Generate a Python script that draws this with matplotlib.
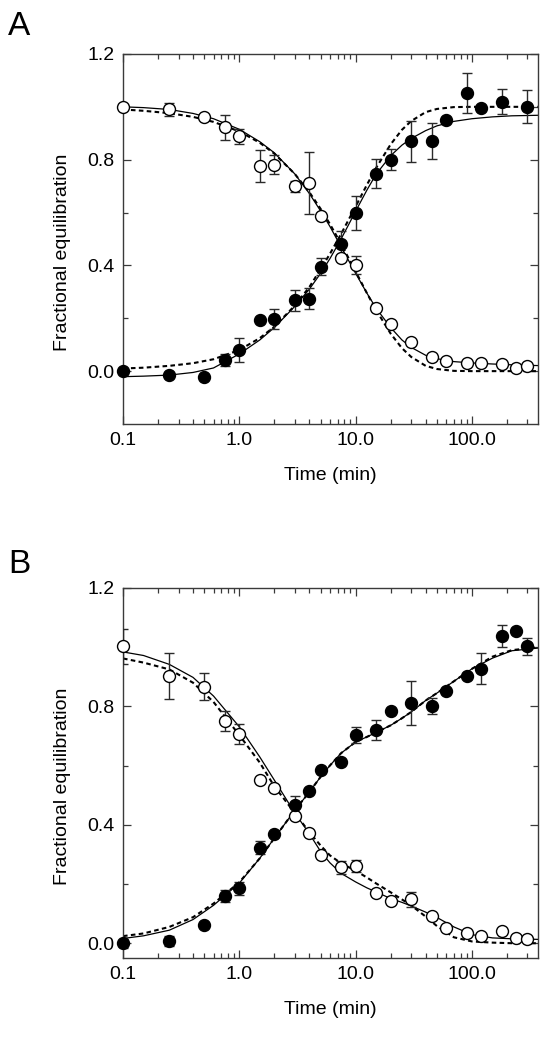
import matplotlib
matplotlib.use("Agg")
import matplotlib.pyplot as plt
from matplotlib.ticker import FixedLocator, LogLocator, NullFormatter, FixedFormatter

plt.rcParams['font.family'] = ['Liberation Sans', 'DejaVu Sans']

# --- data ---
# sampling times (min)
t_a_open = [0.1, 0.25, 0.5, 0.75, 1, 1.5, 2, 3, 4, 5, 7.5, 10, 15, 20, 30, 45, 60, 90, 120, 180, 240, 300]
t_a_fill = [0.1, 0.25, 0.5, 0.75, 1, 1.5, 2, 3, 4, 5, 7.5, 10, 15, 20, 30, 45, 60, 90, 120, 180, 300]
t_b = [0.1, 0.25, 0.5, 0.75, 1, 1.5, 2, 3, 4, 5, 7.5, 10, 15, 20, 30, 45, 60, 90, 120, 180, 240, 300]

# panel A
a_open = [1.0, 0.99, 0.963, 0.922, 0.888, 0.777, 0.781, 0.699, 0.712, 0.586, 0.429, 0.401,
          0.240, 0.177, 0.111, 0.054, 0.039, 0.029, 0.029, 0.026, 0.010, 0.020]
a_open_err = [0.0, 0.025, 0.0, 0.046, 0.029, 0.06, 0.036, 0.02, 0.116, 0.0, 0.0, 0.035,
              0.01, 0.0, 0.0, 0.0, 0.0, 0.0, 0.0, 0.0, 0.0, 0.0]
a_fill = [-0.001, -0.015, -0.024, 0.042, 0.079, 0.192, 0.196, 0.268, 0.274, 0.395, 0.482, 0.599,
          0.747, 0.80, 0.869, 0.869, 0.951, 1.052, 0.995, 1.02, 1.001]
a_fill_err = [0.0, 0.0, 0.0, 0.022, 0.045, 0.0, 0.038, 0.04, 0.04, 0.033, 0.047, 0.065,
              0.055, 0.039, 0.079, 0.068, 0.0, 0.077, 0.0, 0.047, 0.064]

# panel B
b_open = [1.003, 0.903, 0.866, 0.751, 0.708, 0.551, 0.523, 0.430, 0.373, 0.297, 0.256, 0.26,
          0.17, 0.142, 0.148, 0.091, 0.052, 0.036, 0.024, 0.042, 0.016, 0.014]
b_open_err = [0.059, 0.079, 0.046, 0.034, 0.034, 0.0, 0.0, 0.0, 0.0, 0.0, 0.022, 0.02,
              0.0, 0.0, 0.025, 0.0, 0.0, 0.0, 0.0, 0.0, 0.0, 0.0]
b_fill = [0.0, 0.007, 0.063, 0.159, 0.185, 0.323, 0.37, 0.466, 0.514, 0.584, 0.613, 0.703,
          0.72, 0.785, 0.812, 0.802, 0.851, 0.902, 0.928, 1.037, 1.055, 1.003]
b_fill_err = [0.015, 0.016, 0.0, 0.021, 0.021, 0.022, 0.0, 0.031, 0.0, 0.0, 0.0, 0.027,
              0.034, 0.0, 0.074, 0.028, 0.0, 0.0, 0.052, 0.038, 0.01, 0.028]

# fitted curves on a common time grid
t_fit = [0.1, 0.15, 0.25, 0.4, 0.6, 1, 1.5, 2, 3, 4, 5, 6, 7.5, 10, 12.5, 15, 20, 25, 30,
         40, 50, 70, 100, 150, 220, 370]
a_open_solid = [1.0, 0.997, 0.99, 0.975, 0.955, 0.915, 0.868, 0.826, 0.746, 0.672, 0.606, 0.548,
                0.47, 0.37, 0.295, 0.238, 0.165, 0.118, 0.09, 0.06, 0.047, 0.036, 0.031, 0.027,
                0.024, 0.021]
a_open_dash = [0.99, 0.985, 0.976, 0.962, 0.943, 0.907, 0.864, 0.823, 0.746, 0.677, 0.614, 0.557,
               0.481, 0.377, 0.295, 0.231, 0.142, 0.087, 0.054, 0.02, 0.008, 0.001, 0.0, 0.0,
               0.0, 0.0]
a_fill_solid = [-0.021, -0.019, -0.015, -0.005, 0.012, 0.065, 0.118, 0.165, 0.245, 0.31, 0.37,
                0.425, 0.5, 0.605, 0.685, 0.745, 0.815, 0.855, 0.88, 0.91, 0.928, 0.945, 0.955,
                0.962, 0.966, 0.968]
a_fill_dash = [0.01, 0.013, 0.02, 0.03, 0.045, 0.08, 0.125, 0.168, 0.248, 0.318, 0.386, 0.443,
               0.519, 0.623, 0.705, 0.769, 0.858, 0.913, 0.946, 0.98, 0.992, 0.999, 1.0, 1.0,
               1.0, 1.0]
b_open_solid = [0.984, 0.972, 0.942, 0.898, 0.835, 0.731, 0.629, 0.551, 0.44, 0.37, 0.31, 0.272,
                0.236, 0.207, 0.187, 0.173, 0.151, 0.138, 0.126, 0.105, 0.087, 0.055, 0.029,
                0.018, 0.015, 0.013]
b_open_dash = [0.962, 0.948, 0.925, 0.88, 0.815, 0.703, 0.61, 0.53, 0.44, 0.375, 0.33, 0.297,
               0.27, 0.245, 0.222, 0.202, 0.172, 0.148, 0.128, 0.09, 0.058, 0.02, 0.006, 0.002,
               0.0, 0.0]
b_fill_solid = [0.016, 0.025, 0.044, 0.08, 0.128, 0.203, 0.287, 0.355, 0.449, 0.511, 0.562, 0.6,
                0.642, 0.68, 0.697, 0.712, 0.736, 0.76, 0.781, 0.82, 0.845, 0.885, 0.927, 0.963,
                0.988, 0.997]
b_fill_dash = [0.024, 0.033, 0.055, 0.088, 0.134, 0.206, 0.287, 0.355, 0.449, 0.511, 0.562, 0.6,
               0.642, 0.68, 0.697, 0.712, 0.736, 0.76, 0.781, 0.82, 0.845, 0.885, 0.927, 0.968,
               0.99, 1.0]

x_ticks = [0.1, 1, 10, 100]
x_ticklabels = ["0.1", "1.0", "10.0", "100.0"]
y_ticks = [0.0, 0.4, 0.8, 1.2]
y_ticklabels = ["0.0", "0.4", "0.8", "1.2"]

# --- figure ---
fig = plt.figure(figsize=(5.47, 10.5), dpi=100)
ax_a = fig.add_axes([0.2249, 0.5962, 0.7587, 0.3524])
ax_b = fig.add_axes([0.2249, 0.0876, 0.7587, 0.3524])

DASH = (0, (2.2, 1.6))
SPINE = '#3a3a3a'


def draw_panel(ax, t_open, y_open, e_open, t_fill, y_fill, e_fill,
               open_solid, open_dash, fill_solid, fill_dash, ylim):
    ax.set_xscale('log')
    # fits
    ax.plot(t_fit, open_solid, color='black', lw=0.9, zorder=2)
    ax.plot(t_fit, fill_solid, color='black', lw=0.9, zorder=2)
    ax.plot(t_fit, open_dash, color='black', lw=1.5, ls=DASH, zorder=2)
    ax.plot(t_fit, fill_dash, color='black', lw=1.5, ls=DASH, zorder=2)
    # error bars
    ax.errorbar(t_open, y_open, yerr=e_open, fmt='none', ecolor='#2a2a2a',
                elinewidth=1.0, capsize=3.8, capthick=1.0, zorder=3)
    ax.errorbar(t_fill, y_fill, yerr=e_fill, fmt='none', ecolor='#2a2a2a',
                elinewidth=1.0, capsize=3.8, capthick=1.0, zorder=3)
    # points
    ax.plot(t_open, y_open, 'o', ms=8.6, mfc='white', mec='black', mew=1.0,
            ls='none', zorder=4, clip_on=False)
    ax.plot(t_fill, y_fill, 'o', ms=8.6, mfc='black', mec='black', mew=1.0,
            ls='none', zorder=4, clip_on=False)

    ax.set_xlim(0.1, 370)
    ax.set_ylim(*ylim)
    ax.xaxis.set_major_locator(FixedLocator(x_ticks))
    ax.xaxis.set_major_formatter(FixedFormatter(x_ticklabels))
    ax.xaxis.set_minor_locator(LogLocator(base=10, subs=range(2, 10)))
    ax.xaxis.set_minor_formatter(NullFormatter())
    ax.yaxis.set_major_locator(FixedLocator(y_ticks))
    ax.yaxis.set_major_formatter(FixedFormatter(y_ticklabels))
    ax.yaxis.set_minor_locator(FixedLocator([0.2, 0.6, 1.0]))

    ax.tick_params(which='both', direction='in', top=True, right=True,
                   color=SPINE, width=0.9, labelsize=14, pad=6)
    ax.tick_params(which='major', length=6)
    ax.tick_params(which='minor', length=3.5)
    for s in ax.spines.values():
        s.set_color(SPINE)
        s.set_linewidth(1.0)

    ax.set_xlabel("Time (min)", fontsize=14)
    ax.set_ylabel("Fractional equilibration", fontsize=14)
    ax.xaxis.set_label_coords(0.5, -0.115)
    ax.yaxis.set_label_coords(-0.125, 0.465)


draw_panel(ax_a, t_a_open, a_open, a_open_err, t_a_fill, a_fill, a_fill_err,
           a_open_solid, a_open_dash, a_fill_solid, a_fill_dash, (-0.2, 1.2))
draw_panel(ax_b, t_b, b_open, b_open_err, t_b, b_fill, b_fill_err,
           b_open_solid, b_open_dash, b_fill_solid, b_fill_dash, (-0.05, 1.2))

fig.text(0.015, 0.967, "A", fontsize=24, va='baseline')
fig.text(0.015, 0.454, "B", fontsize=24, va='baseline')

fig.savefig("out.png", dpi=100)
